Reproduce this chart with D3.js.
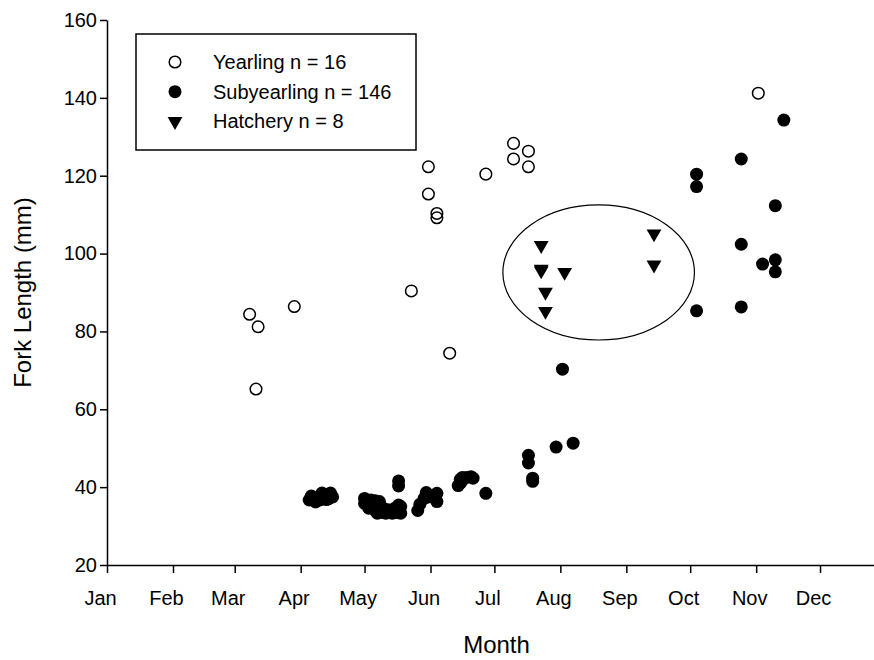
<!DOCTYPE html>
<html>
<head>
<meta charset="utf-8">
<script src="https://cdnjs.cloudflare.com/ajax/libs/d3/7.8.5/d3.min.js"></script>
<style>
  body { margin: 0; background: #fff; }
  text { font-family: "Liberation Sans", Arial, sans-serif; fill: #000; }
</style>
</head>
<body>
<div id="chart"></div>
<script>
// month tick labels and y ticks
var monthLabels = ['Jan','Feb','Mar','Apr','May','Jun','Jul','Aug','Sep','Oct','Nov','Dec'];
var yTicks = [20, 40, 60, 80, 100, 120, 140, 160];

// yearling (open circles)
var yearlingDates   = ['03-08','03-12','03-11','03-29','05-23','05-31','05-31','06-04','06-04','06-10','06-27','07-10','07-10','07-17','07-17','11-02'];
var yearlingLengths = [84.4, 81.2, 65.2, 86.4, 90.4, 122.3, 115.3, 110.3, 109.2, 74.4, 120.4, 128.3, 124.3, 126.3, 122.3, 141.2];

// subyearling (filled circles)
var subDates = ['04-05','04-06','04-07','04-08','04-10','04-11','04-12','04-13','04-14','04-15','04-15','04-16',
                '05-01','05-01','05-02','05-03','05-04','05-05','05-06','05-06','05-07','05-08','05-08','05-09','05-10',
                '05-11','05-12','05-13','05-14','05-15','05-16','05-17','05-18','05-18','05-17','05-17',
                '05-26','05-27','05-29','05-30','05-31','06-02','06-03','06-04','06-04',
                '06-14','06-15','06-15','06-16','06-16','06-18','06-20','06-21','06-27',
                '07-17','07-17','07-19','07-19','07-30','08-07','08-02',
                '10-04','10-04','10-04','10-25','10-25','10-25','11-04','11-10','11-10','11-10','11-14'];
var subLengths = [36.7, 37.7, 37.0, 36.2, 36.7, 38.5, 38.0, 36.8, 37.0, 38.5, 37.7, 37.5,
                  35.8, 37.1, 36.0, 34.6, 36.7, 35.0, 34.0, 36.5, 33.3, 36.3, 35.4, 33.5, 34.5,
                  33.3, 34.2, 33.8, 33.3, 34.5, 33.5, 35.4, 33.3, 35.0, 41.6, 40.3,
                  34.0, 35.6, 37.1, 38.6, 37.5, 37.6, 38.0, 38.4, 36.3,
                  40.4, 41.0, 42.0, 42.5, 41.8, 42.5, 42.7, 42.3, 38.4,
                  48.2, 46.2, 42.3, 41.5, 50.3, 51.3, 70.3,
                  120.4, 117.2, 85.3, 124.3, 102.4, 86.3, 97.3, 112.3, 98.4, 95.3, 134.3];

// hatchery (down triangles)
var hatcheryDates   = ['07-23','07-23','07-23','08-03','07-25','07-25','09-14','09-14'];
var hatcheryLengths = [102.1, 96.0, 95.6, 95.2, 90.1, 85.2, 105.1, 97.1];

// ellipse drawn round the hatchery fish: date span and length span
var ellipseDates   = ['07-05','10-03'];
var ellipseLengths = [77.8, 112.5];

var legendLabels = ['Yearling n = 16', 'Subyearling n = 146', 'Hatchery n = 8'];

var W = 874, H = 660;
var parse = d3.timeParse('%Y-%m-%d');
function day(s) { return parse('2000-' + s); }

var x = d3.scaleTime().domain([new Date(2000,0,1), new Date(2001,0,1)]).range([107, 886]);
var y = d3.scaleLinear().domain([20, 160]).range([565, 20]);

var svg = d3.select('#chart').append('svg').attr('width', W).attr('height', H);

// axes
var months = d3.timeMonth.range(new Date(2000,0,1), new Date(2001,0,1));
var xAxis = d3.axisBottom(x).tickValues(months)
    .tickFormat(function(d, i) { return monthLabels[i]; })
    .tickSize(8).tickSizeOuter(0).tickPadding(18);
var gx = svg.append('g').attr('transform', 'translate(0,565)').call(xAxis);
gx.selectAll('text').attr('dx', -7).style('font-size', '20px')
    .style('font-family', '"Liberation Sans", Arial, sans-serif');

var yAxis = d3.axisLeft(y).tickValues(yTicks).tickSize(7).tickSizeOuter(0).tickPadding(3);
var gy = svg.append('g').attr('transform', 'translate(107,0)').call(yAxis);
gy.selectAll('text').style('font-size', '20px')
    .style('font-family', '"Liberation Sans", Arial, sans-serif');

svg.selectAll('.domain, .tick line').attr('stroke', '#000').attr('stroke-width', 1.5);

// titles
svg.append('text').attr('x', (x.range()[0] + x.range()[1]) / 2).attr('y', 653)
    .attr('text-anchor', 'middle').style('font-size', '24px').text('Month');
svg.append('text').attr('transform', 'translate(31,' + ((y.range()[0] + y.range()[1]) / 2) + ') rotate(-90)')
    .attr('text-anchor', 'middle').style('font-size', '24px').text('Fork Length (mm)');

// points
var tri = d3.symbol().type(d3.symbolTriangle).size(95);

svg.append('g').selectAll('circle').data(subDates).enter().append('circle')
    .attr('cx', function(d) { return x(day(d)); })
    .attr('cy', function(d, i) { return y(subLengths[i]); })
    .attr('r', 6.5).attr('fill', '#000');

svg.append('g').selectAll('circle').data(yearlingDates).enter().append('circle')
    .attr('cx', function(d) { return x(day(d)); })
    .attr('cy', function(d, i) { return y(yearlingLengths[i]); })
    .attr('r', 5.8).attr('fill', 'none').attr('stroke', '#000').attr('stroke-width', 1.5);

svg.append('g').selectAll('path').data(hatcheryDates).enter().append('path')
    .attr('d', tri)
    .attr('transform', function(d, i) {
        return 'translate(' + x(day(d)) + ',' + y(hatcheryLengths[i]) + ') rotate(180)';
    })
    .attr('fill', '#000');

// ellipse
var ex0 = x(day(ellipseDates[0])), ex1 = x(day(ellipseDates[1]));
var ey0 = y(ellipseLengths[1]), ey1 = y(ellipseLengths[0]);
svg.append('ellipse')
    .attr('cx', (ex0 + ex1) / 2).attr('cy', (ey0 + ey1) / 2)
    .attr('rx', (ex1 - ex0) / 2).attr('ry', (ey1 - ey0) / 2)
    .attr('fill', 'none').attr('stroke', '#000').attr('stroke-width', 1.2);

// legend
var legend = svg.append('g').attr('transform', 'translate(136,34)');
legend.append('rect').attr('width', 280).attr('height', 116)
    .attr('fill', '#fff').attr('stroke', '#000').attr('stroke-width', 1.5);
var rows = legend.selectAll('g.row').data(legendLabels).enter().append('g')
    .attr('class', 'row')
    .attr('transform', function(d, i) { return 'translate(39,' + (28 + i * 29.7) + ')'; });
rows.append('text').attr('x', 38).attr('dy', '0.35em').style('font-size', '20px')
    .text(function(d) { return d; });
rows.each(function(d, i) {
    var g = d3.select(this);
    if (i === 0) g.append('circle').attr('r', 5.8).attr('fill', 'none').attr('stroke', '#000').attr('stroke-width', 1.5);
    else if (i === 1) g.append('circle').attr('r', 6.5).attr('fill', '#000');
    else g.append('path').attr('d', tri).attr('transform', 'rotate(180)').attr('fill', '#000');
});
</script>
</body>
</html>
